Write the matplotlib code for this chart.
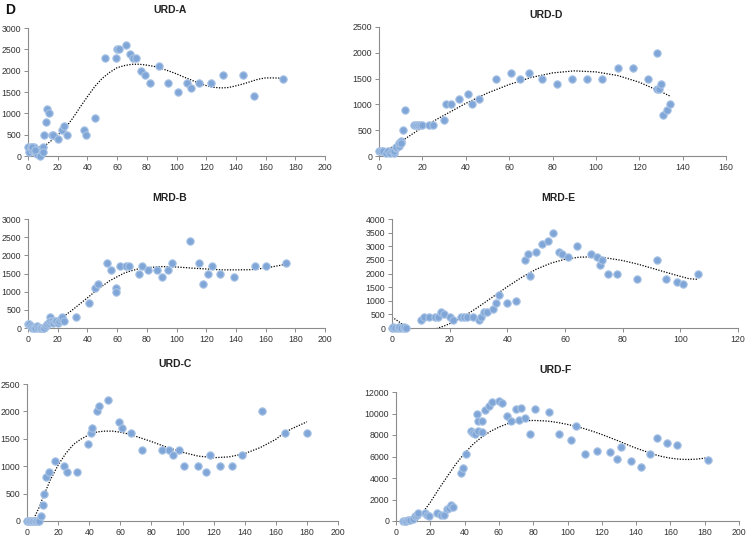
import numpy as np
import matplotlib
matplotlib.use("Agg")
import matplotlib.pyplot as plt

plt.rcParams["font.family"] = ["Liberation Sans", "DejaVu Sans"]

# ---------------- data: scatter points ----------------
urd_a_x = [0, 1, 2, 3, 4, 5, 6, 7, 8, 9, 10, 6, 8, 10, 3, 5,
           11, 12, 13, 14, 16, 17, 20, 23, 24, 26, 38, 39, 45,
           52, 59, 60, 61, 66, 69, 71, 73, 76, 79, 82, 88, 94, 101,
           107, 110, 115, 123, 131, 145, 152, 172]
urd_a_y = [200, 100, 200, 150, 200, 100, 150, 100, 50, 100, 200, 50, 0, 100, 200, 150,
           500, 800, 1100, 1000, 500, 500, 400, 600, 700, 500, 600, 500, 900,
           2300, 2300, 2500, 2500, 2600, 2400, 2300, 2300, 2000, 1900, 1700, 2100, 1700, 1500,
           1700, 1600, 1700, 1700, 1900, 1900, 1400, 1800]

urd_d_x = [0, 1, 2, 3, 4, 5, 6, 7, 7, 8, 8, 9, 9, 10, 10, 11, 12,
           16, 17, 18, 19, 20, 23, 25, 30, 31, 33, 37, 41, 43, 46,
           54, 61, 65, 69, 75, 82, 89, 96, 103, 110, 117, 124,
           128, 128, 129, 130, 131, 133, 134]
urd_d_y = [100, 100, 100, 50, 100, 50, 100, 50, 100, 150, 180, 200, 250, 300, 250, 500, 900,
           600, 600, 600, 600, 600, 600, 600, 700, 1000, 1000, 1100, 1200, 1000, 1100,
           1500, 1600, 1500, 1600, 1500, 1400, 1500, 1500, 1500, 1700, 1700, 1500,
           2000, 1300, 1300, 1400, 800, 900, 1000]

mrd_b_x = [0, 1, 2, 3, 4, 5, 6, 7, 8, 9, 10, 11, 12, 13, 14, 15, 15, 16, 17, 18,
           19, 20, 21, 22, 23, 24, 32, 41, 45, 47, 53, 56, 59, 59, 62, 66, 68,
           75, 77, 81, 87, 90, 94, 97, 109, 115, 118, 121, 124, 129, 139, 153, 160, 174]
mrd_b_y = [100, 100, 50, 0, 0, 0, 50, 0, 0, 0, 0, 0, 50, 100, 150, 300, 200, 200, 150, 200,
           200, 150, 200, 250, 300, 200, 300, 700, 1100, 1200, 1800, 1600, 1100, 1000, 1700, 1700, 1700,
           1500, 1700, 1600, 1600, 1400, 1600, 1800, 2400, 1800, 1200, 1500, 1700, 1500, 1400, 1700, 1700, 1800]

mrd_e_x = [0, 0.5, 1, 2, 2.5, 3, 4, 4, 5,
           10, 11, 13, 15, 16, 17, 18, 20, 21, 24, 25, 26, 28, 30, 31, 32, 33,
           35, 36, 37, 40, 43, 46, 47, 48, 50, 52, 54, 56, 58, 59, 61, 64,
           69, 71, 72, 73, 75, 78, 85, 92, 95, 99, 101, 106]
mrd_e_y = [0, 50, 0, 0, 50, 0, 0, 50, 0,
           300, 400, 400, 400, 400, 600, 500, 400, 300, 400, 400, 400, 400, 300, 400, 600, 600,
           700, 900, 1200, 900, 1000, 2500, 2700, 1900, 2800, 3100, 3200, 3500, 2800, 2700, 2600, 3000,
           2700, 2600, 2300, 2500, 2000, 2000, 1800, 2500, 1800, 1700, 1600, 2000]

urd_c_x = [0, 1, 2, 3, 4, 5, 6, 7, 8, 9, 10, 11, 12, 14, 18, 24, 26, 32,
           39, 41, 42, 45, 46, 52, 59, 61, 67, 74, 87, 91, 94, 98,
           101, 110, 115, 118, 124, 132, 138, 151, 166, 180]
urd_c_y = [0, 0, 0, 0, 0, 0, 0, 0, 0, 100, 300, 500, 800, 900, 1100, 1000, 900, 900,
           1400, 1600, 1700, 2000, 2100, 2200, 1800, 1700, 1600, 1300, 1300, 1300, 1200, 1300,
           1000, 1000, 900, 1200, 1000, 1000, 1200, 2000, 1600, 1600]

urd_f_x = [4, 5, 6, 7, 8, 10, 11, 12, 13, 17, 18, 19, 24, 26, 28, 30, 31, 32, 33,
           38, 39, 41, 44, 45, 46, 47, 48, 48, 50, 50, 52, 54, 56, 60, 62,
           65, 67, 70, 72, 73, 75, 78, 81, 89, 95, 102, 105, 110, 117, 125,
           129, 131, 137, 143, 148, 152, 158, 164, 182]
urd_f_y = [0, 0, 0, 50, 100, 200, 500, 600, 700, 700, 600, 500, 700, 600, 600, 1100, 1200, 1500, 1300,
           4500, 4900, 6200, 8400, 8200, 8100, 10000, 8400, 9300, 9300, 8300, 10300, 10700, 11100, 11200, 11000,
           9800, 9300, 10400, 9400, 10500, 9600, 8100, 10400, 10100, 8100, 7500, 8800, 6200, 6500, 6400,
           5800, 6900, 5600, 5000, 6200, 7700, 7300, 7100, 5700]

# ---------------- data: trend lines ----------------
urd_a_tx = [0, 5, 10, 15, 20, 25, 30, 35, 40, 45, 50, 55, 60, 65, 70, 75, 80, 85, 90, 95,
            100, 105, 110, 115, 120, 125, 130, 135, 140, 145, 150, 155, 160, 165, 170, 172]
urd_a_ty = [250, 215, 205, 340, 490, 650, 880, 1140, 1390, 1630, 1820, 1960, 2070, 2120, 2150, 2150,
            2130, 2100, 2050, 1990, 1925, 1850, 1780, 1710, 1650, 1610, 1595, 1605, 1645, 1690,
            1745, 1800, 1830, 1830, 1825, 1815]

urd_d_tx = [0, 10, 20, 30, 40, 50, 60, 70, 80, 90, 100, 110, 120, 130, 134]
urd_d_ty = [20, 277, 554, 790, 1020, 1220, 1385, 1520, 1610, 1650, 1630, 1560, 1430, 1245, 1165]

mrd_b_tx = [0, 5, 10, 15, 20, 25, 30, 35, 40, 45, 50, 55, 60, 65, 70, 75, 80, 90, 100,
            110, 120, 130, 140, 150, 160, 170, 174]
mrd_b_ty = [100, 30, 20, 100, 210, 350, 500, 665, 830, 1000, 1155, 1300, 1410, 1515, 1580, 1635,
            1660, 1690, 1680, 1650, 1625, 1600, 1600, 1605, 1650, 1725, 1765]

mrd_e_tx = [0, 2, 4, 5, 8, 12, 16, 18, 20, 25, 30, 35, 40, 45, 50, 55, 60, 65, 70, 75, 80,
            85, 90, 95, 100, 103, 106]
mrd_e_ty = [400, 260, 110, 40, -150, -150, 0, 70, 160, 430, 775, 1145, 1515, 1860, 2155, 2375,
            2525, 2600, 2610, 2560, 2475, 2350, 2200, 2045, 1895, 1810, 1785]

urd_c_tx = [3, 5, 8, 10, 15, 20, 25, 30, 35, 40, 45, 50, 55, 60, 65, 70, 80, 90, 100, 110,
            120, 130, 140, 150, 160, 165, 170, 180]
urd_c_ty = [-100, 80, 260, 415, 750, 1020, 1235, 1400, 1500, 1575, 1625, 1640, 1640, 1620, 1590,
            1545, 1450, 1345, 1255, 1185, 1155, 1170, 1230, 1340, 1490, 1600, 1680, 1810]

urd_f_tx = [10, 12, 15, 20, 25, 30, 35, 40, 45, 50, 55, 60, 65, 70, 75, 80, 85, 90, 95, 100,
            105, 110, 115, 120, 125, 130, 135, 140, 145, 150, 155, 160, 165, 170, 175, 180, 182]
urd_f_ty = [-300, 0, 650, 1740, 2985, 4165, 5315, 6310, 7150, 7800, 8330, 8735, 9045, 9230, 9325,
            9355, 9325, 9265, 9140, 8985, 8800, 8580, 8330, 8050, 7740, 7430, 7090, 6775, 6500,
            6215, 6000, 5845, 5750, 5720, 5750, 5845, 5815]

titles = ["URD-A", "URD-D", "MRD-B", "MRD-E", "URD-C", "URD-F"]
xmaxes = [200, 160, 200, 120, 200, 200]
ymaxes = [3000, 2500, 3000, 4000, 2500, 12000]
ysteps = [500, 500, 500, 500, 500, 2000]

series = [
    (urd_a_x, urd_a_y, urd_a_tx, urd_a_ty),
    (urd_d_x, urd_d_y, urd_d_tx, urd_d_ty),
    (mrd_b_x, mrd_b_y, mrd_b_tx, mrd_b_ty),
    (mrd_e_x, mrd_e_y, mrd_e_tx, mrd_e_ty),
    (urd_c_x, urd_c_y, urd_c_tx, urd_c_ty),
    (urd_f_x, urd_f_y, urd_f_tx, urd_f_ty),
]

# layout in pixels: (left, right, top, bottom) of plot area, title centre
rects = [(28, 325, 28, 156), (379, 726, 27, 156), (28, 325, 219, 328),
         (392, 738, 219, 328), (27, 338, 384, 521), (396, 739, 392, 521)]
title_pos = [(170, 10), (546, 15), (170, 198), (558, 198), (175, 364), (556, 370)]

W, H = 747, 537
fig = plt.figure(figsize=(W / 100, H / 100), dpi=100)
fig.patch.set_facecolor("white")

spine_col = "#8c8c8c"
txt_col = "#333333"

for i, (xs, ys, tx, ty) in enumerate(series):
    l, r, t, b = rects[i]
    ax = fig.add_axes([l / W, 1 - b / H, (r - l) / W, (b - t) / H])
    ax.scatter(xs, ys, s=28, color="#7fa6d6", edgecolors="#a8c3e5", linewidths=0.8,
               zorder=3, clip_on=False)
    ax.plot(tx, ty, color="black", lw=0.9, ls=(0, (1, 1.2)), zorder=2)
    ax.set_xlim(0, xmaxes[i])
    ax.set_ylim(0, ymaxes[i])
    ax.set_xticks(np.arange(0, xmaxes[i] + 1, 20))
    ax.set_yticks(np.arange(0, ymaxes[i] + 1, ysteps[i]))
    for s in ("top", "right"):
        ax.spines[s].set_visible(False)
    for s in ("left", "bottom"):
        ax.spines[s].set_color(spine_col)
        ax.spines[s].set_linewidth(0.8)
    ax.tick_params(axis="both", direction="out", length=3, width=0.7, color=spine_col,
                   labelsize=6.3, labelcolor=txt_col, pad=2)
    ax.set_facecolor("none")
    tx_, ty_ = title_pos[i]
    fig.text(tx_ / W, 1 - ty_ / H, titles[i], ha="center", va="center", fontsize=7.5,
             fontweight="bold", color="#222222")

fig.text(5 / W, 1 - 10 / H, "D", ha="left", va="center", fontsize=10, fontweight="bold",
         color="#111111")

fig.savefig("out.png", dpi=100)
